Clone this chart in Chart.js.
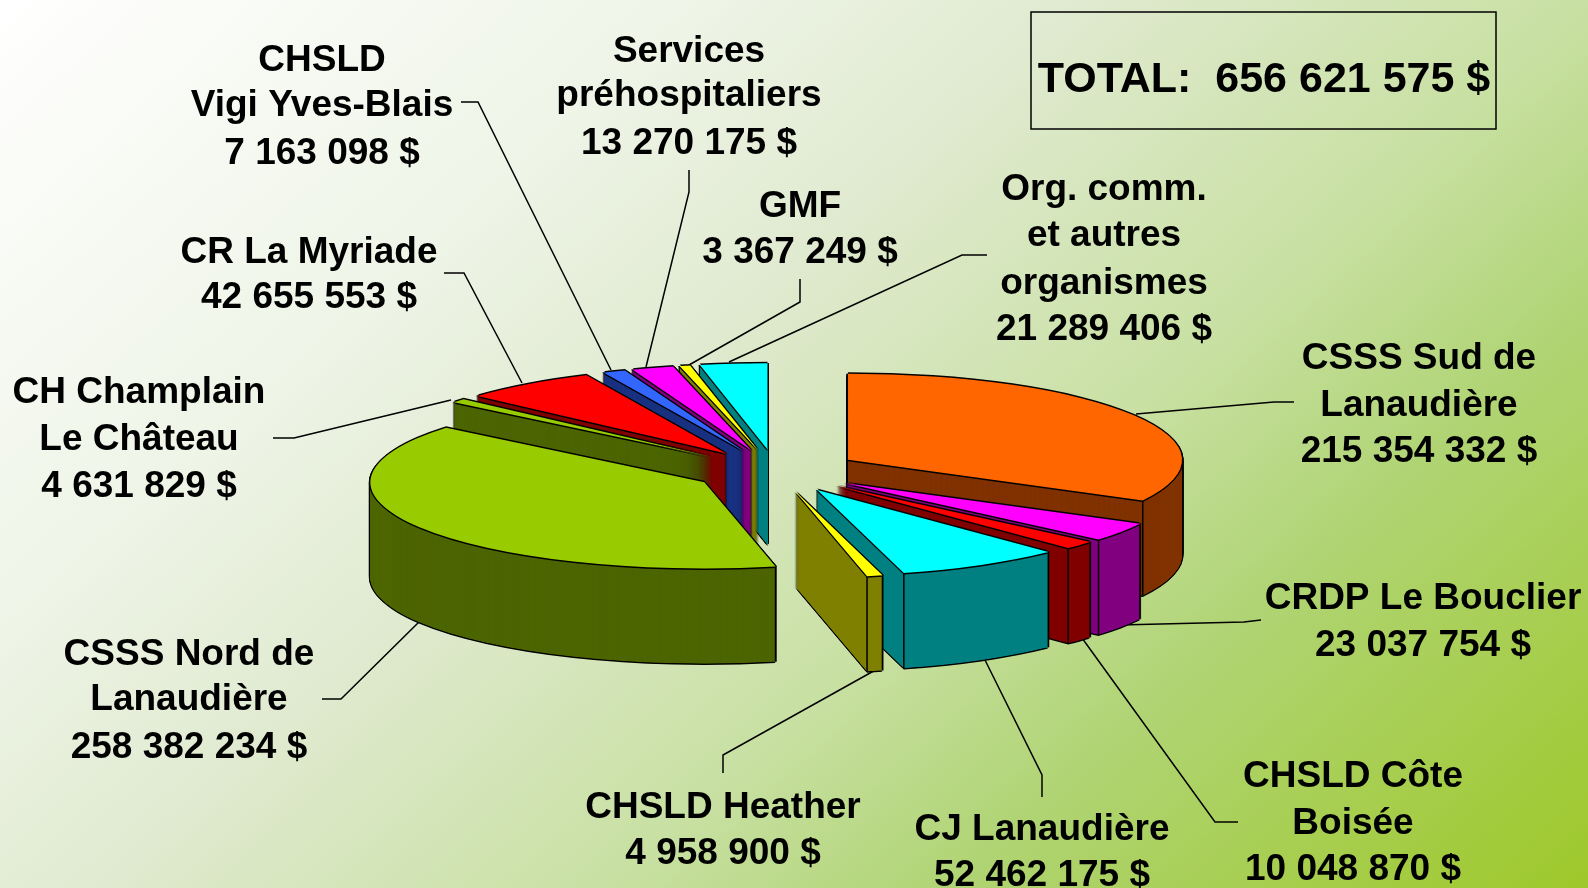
<!DOCTYPE html>
<html lang="fr">
<head>
<meta charset="utf-8">
<title>Répartition</title>
<script src="https://cdn.jsdelivr.net/npm/chart.js@4"></script>
<style>
html,body{margin:0;padding:0;width:1588px;height:888px;overflow:hidden;
background:linear-gradient(138deg,#ffffff 0%,#eef4e6 28%,#e0ead0 42%,#c8e0a2 62%,#b0d474 75%,#9ec82a 100%);}
canvas{display:block}
</style>
</head>
<body>
<canvas id="c" width="1588" height="888"></canvas>
<script>
const categories = ["CSSS Sud de Lanaudière","CRDP Le Bouclier","CHSLD Côte Boisée","CJ Lanaudière","CHSLD Heather","CSSS Nord de Lanaudière","CH Champlain Le Château","CR La Myriade","CHSLD Vigi Yves-Blais","Services préhospitaliers","GMF","Org. comm. et autres organismes"];
const values = [215354332,23037754,10048870,52462175,4958900,258382234,4631829,42655553,7163098,13270175,3367249,21289406];
const topColors = ["#FF6600","#FF00FF","#FF0000","#00FFFF","#FFFF00","#99CC00","#99CC00","#FF0000","#3366FF","#FF00FF","#FFFF00","#00FFFF"];
const wallColors = ["#803300","#800080","#800000","#008080","#808000","#4D6600","#4D6600","#800000","#1A3380","#800080","#808000","#008080"];
const totalLabel = "TOTAL:  656 621 575 $";

const RADIUS=334, SQUASH=0.258, DEPTH=95, EXPLODE=84, EDGE=1.5, STEP=0.25;
const FONT='bold 37px "Liberation Sans", Arial, sans-serif';
const TOTAL_FONT='bold 43px "Liberation Sans", Arial, sans-serif';

const textBlocks = [
 {x:322, ys:[71,116,164], t:["CHSLD","Vigi Yves-Blais","7 163 098 $"]},
 {x:689, ys:[62,106,154], t:["Services","préhospitaliers","13 270 175 $"]},
 {x:800, ys:[217,263], t:["GMF","3 367 249 $"]},
 {x:1104,ys:[200,246,294,340], t:["Org. comm.","et autres","organismes","21 289 406 $"]},
 {x:1419,ys:[369,416,462], t:["CSSS Sud de","Lanaudière","215 354 332 $"]},
 {x:1423,ys:[609,656], t:["CRDP Le Bouclier","23 037 754 $"]},
 {x:1353,ys:[787,834,880], t:["CHSLD Côte","Boisée","10 048 870 $"]},
 {x:1042,ys:[840,886], t:["CJ Lanaudière","52 462 175 $"]},
 {x:723, ys:[818,864], t:["CHSLD Heather","4 958 900 $"]},
 {x:189, ys:[665,710,758], t:["CSSS Nord de","Lanaudière","258 382 234 $"]},
 {x:139, ys:[403,450,497], t:["CH Champlain","Le Château","4 631 829 $"]},
 {x:309, ys:[263,308], t:["CR La Myriade","42 655 553 $"]}
];
const leaders = [
 [[461,102],[478,102],[611,370]],
 [[689,170],[689,192],[646,367]],
 [[800,279],[800,302],[689,365]],
 [[987,255],[962,255],[729,362]],
 [[1294,402],[1274,402],[1136,414]],
 [[1261,620],[1244,622],[1119,625]],
 [[1238,822],[1215,822],[1082,638]],
 [[1042,797],[1042,775],[984,658]],
 [[723,773],[723,755],[879,668]],
 [[322,699],[341,699],[420,621]],
 [[273,438],[294,438],[451,400]],
 [[444,273],[464,273],[522,383]]
];

function paintArc(ctx, arc, color, dx, dy){
  const mid=(arc.startAngle+arc.endAngle)/2;
  arc.options.backgroundColor=color;
  ctx.save();
  ctx.translate(arc.x+dx, arc.y+dy);
  ctx.scale(1,SQUASH);
  ctx.translate(-arc.x,-arc.y);
  ctx.translate(Math.cos(mid)*EXPLODE, Math.sin(mid)*EXPLODE);
  arc.draw(ctx);
  ctx.restore();
}
function rimPoint(arc, angle){
  const mid=(arc.startAngle+arc.endAngle)/2;
  return {x:arc.x+Math.cos(mid)*EXPLODE+Math.cos(angle)*arc.outerRadius,
          y:arc.y+SQUASH*(Math.sin(mid)*EXPLODE+Math.sin(angle)*arc.outerRadius)};
}
const pie3d = {
  id:'pie3d',
  beforeDatasetsDraw(chart){
    const ctx=chart.ctx;
    ctx.save();
    ctx.strokeStyle='#000'; ctx.lineWidth=1.5;
    leaders.forEach(l=>{ctx.beginPath();l.forEach((p,i)=>i?ctx.lineTo(p[0],p[1]):ctx.moveTo(p[0],p[1]));ctx.stroke();});
    ctx.restore();

    const arcs=chart.getDatasetMeta(0).data.map((arc,i)=>({arc,i}));
    arcs.forEach(o=>{o.arc.options={...o.arc.options,borderWidth:0,offset:0,spacing:0,borderAlign:'center'};});
    // back slices first
    arcs.sort((a,b)=>Math.sin((a.arc.startAngle+a.arc.endAngle)/2)-Math.sin((b.arc.startAngle+b.arc.endAngle)/2));
    arcs.forEach(({arc,i})=>{
      paintArc(ctx,arc,'#000',0,DEPTH+EDGE);
      for(let d=DEPTH;d>=0;d--){
        paintArc(ctx,arc,'#000',-EDGE,d);
        paintArc(ctx,arc,'#000', EDGE,d);
      }
      for(let d=DEPTH;d>=0;d-=STEP) paintArc(ctx,arc,wallColors[i],0,d);
      // creases at the front corners
      [arc.startAngle,arc.endAngle].forEach(a=>{
        if(Math.sin(a)>0){
          const p=rimPoint(arc,a);
          ctx.save();ctx.strokeStyle='#000';ctx.lineWidth=1.5;
          ctx.beginPath();ctx.moveTo(p.x,p.y);ctx.lineTo(p.x,p.y+DEPTH);ctx.stroke();ctx.restore();
        }
      });
      [[-EDGE,0],[EDGE,0],[0,-EDGE],[0,EDGE]].forEach(o=>paintArc(ctx,arc,'#000',o[0],o[1]));
      paintArc(ctx,arc,topColors[i],0,0);
    });
    return false;
  },
  afterDraw(chart){
    const ctx=chart.ctx;
    ctx.save();
    ctx.fillStyle='#000';ctx.textAlign='center';ctx.textBaseline='alphabetic';
    ctx.font=FONT;
    textBlocks.forEach(b=>b.t.forEach((s,j)=>ctx.fillText(s,b.x,b.ys[j])));
    ctx.font=TOTAL_FONT;
    ctx.fillText(totalLabel,1264,92);
    ctx.strokeStyle='#000';ctx.lineWidth=1.5;
    ctx.strokeRect(1031,12,465,117);
    ctx.restore();
  }
};

new Chart(document.getElementById('c'),{
  type:'pie',
  data:{labels:categories,datasets:[{data:values,backgroundColor:topColors,borderWidth:0,radius:RADIUS}]},
  options:{
    responsive:false,animation:false,events:[],
    layout:{padding:{top:54,right:36,left:0,bottom:0}},
    plugins:{legend:{display:false},tooltip:{enabled:false},title:{display:false}}
  },
  plugins:[pie3d]
});
</script>
</body>
</html>
